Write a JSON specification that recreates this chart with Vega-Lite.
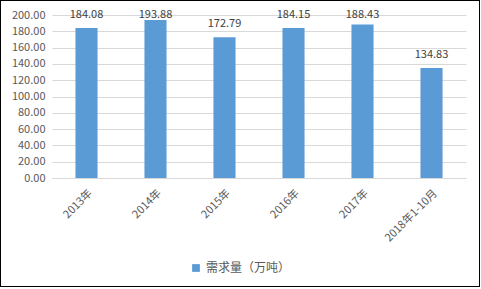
{
  "$schema": "https://vega.github.io/schema/vega-lite/v6.json",
  "width": 480,
  "height": 287,
  "padding": 0,
  "autosize": {"type": "none"},
  "background": "white",
  "config": {
    "view": {"stroke": "#000000", "strokeWidth": 2, "fill": "white"},
    "font": "Noto Sans CJK SC"
  },
  "data": {
    "values": [
      {"period": "2013年", "series": "需求量（万吨）", "demand": 184.08},
      {"period": "2014年", "series": "需求量（万吨）", "demand": 193.88},
      {"period": "2015年", "series": "需求量（万吨）", "demand": 172.79},
      {"period": "2016年", "series": "需求量（万吨）", "demand": 184.15},
      {"period": "2017年", "series": "需求量（万吨）", "demand": 188.43},
      {"period": "2018年1-10月", "series": "需求量（万吨）", "demand": 134.83}
    ]
  },
  "encoding": {
    "x": {
      "field": "period",
      "type": "nominal",
      "sort": null,
      "scale": {"range": [52, 466], "paddingInner": 0.68, "paddingOuter": 0.34},
      "axis": {
        "title": null,
        "offset": -109,
        "labelAngle": -45,
        "labelFontSize": 11,
        "labelColor": "#595959",
        "domainColor": "#D9D9D9",
        "ticks": false,
        "labelPadding": 9,
        "grid": false
      }
    }
  },
  "layer": [
    {
      "mark": {"type": "bar", "color": "#5B9BD5"},
      "encoding": {
        "y": {
          "field": "demand",
          "type": "quantitative",
          "scale": {"domain": [0, 200], "range": [178, 15], "nice": false},
          "axis": {
            "title": null,
            "offset": -52,
            "values": [0, 20, 40, 60, 80, 100, 120, 140, 160, 180, 200],
            "format": ".2f",
            "labelFontSize": 11,
            "labelColor": "#595959",
            "domain": false,
            "ticks": false,
            "labelPadding": 7,
            "gridColor": "#D9D9D9"
          }
        },
        "color": {
          "field": "series",
          "type": "nominal",
          "scale": {"range": ["#5B9BD5"]},
          "legend": {
            "title": null,
            "orient": "none",
            "legendX": 190,
            "legendY": 262,
            "symbolType": "square",
            "symbolSize": 60,
            "labelFontSize": 12,
            "labelColor": "#595959"
          }
        }
      }
    },
    {
      "mark": {"type": "text", "baseline": "bottom", "dy": -8, "fontSize": 11, "color": "#404040"},
      "encoding": {
        "y": {
          "field": "demand",
          "type": "quantitative",
          "scale": {"domain": [0, 184.5], "range": [178, 27.6], "nice": false, "zero": true, "clamp": true},
          "axis": null
        },
        "text": {"field": "demand", "type": "quantitative", "format": ".2f"}
      }
    }
  ],
  "resolve": {"scale": {"y": "independent"}}
}
